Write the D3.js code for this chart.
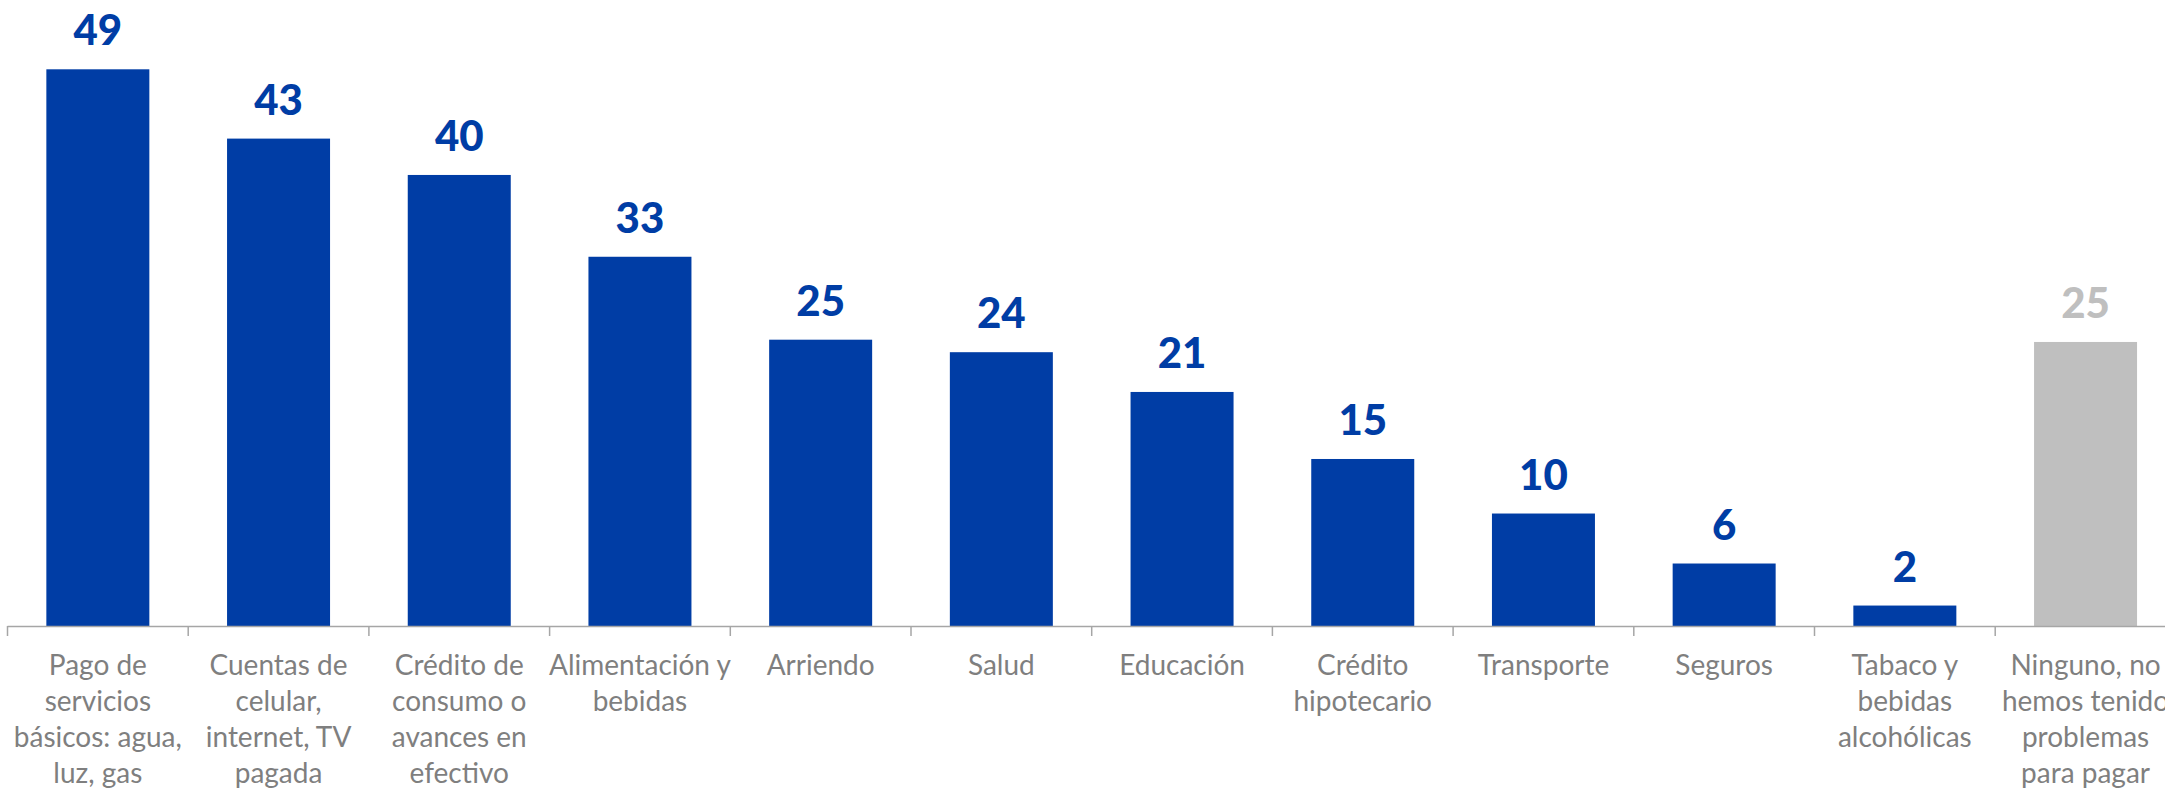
<!DOCTYPE html>
<html>
<head>
<meta charset="utf-8">
<script src="https://cdn.jsdelivr.net/npm/d3@7"></script>
<style>
  html, body { margin: 0; padding: 0; background: #ffffff; overflow: hidden; }
  svg { display: block; }
</style>
</head>
<body>
<svg id="chart" width="2165" height="788"></svg>
<script>
// ---- data ----
const categories = [
  "Pago de\nservicios\nbásicos: agua,\nluz, gas",
  "Cuentas de\ncelular,\ninternet, TV\npagada",
  "Crédito de\nconsumo o\navances en\nefectivo",
  "Alimentación y\nbebidas",
  "Arriendo",
  "Salud",
  "Educación",
  "Crédito\nhipotecario",
  "Transporte",
  "Seguros",
  "Tabaco y\nbebidas\nalcohólicas",
  "Ninguno, no\nhemos tenido\nproblemas\npara pagar"
];
const values = [49, 42.9, 39.7, 32.5, 25.2, 24.1, 20.6, 14.7, 9.9, 5.5, 1.8, 25];
const valueLabels = ["49", "43", "40", "33", "25", "24", "21", "15", "10", "6", "2", "25"];
const highlight = [false, false, false, false, false, false, false, false, false, false, false, true];

// ---- layout ----
const blue = "#003DA5";
const grey = "#BFBFBF";
const axisY = 626;
const svg = d3.select("#chart");

const x = d3.scaleBand()
  .domain(categories)
  .range([7.5, 7.5 + 12 * 180.7])
  .paddingInner(0.43)
  .paddingOuter(0.215);

const y = d3.scaleLinear().domain([0, 49]).range([axisY, 69.3]);

const rows = categories.map((c, i) => ({ c, v: values[i], lab: valueLabels[i], hi: highlight[i] }));

// bars
svg.append("g").selectAll("rect").data(rows).join("rect")
  .attr("x", d => x(d.c))
  .attr("y", d => y(d.v))
  .attr("width", x.bandwidth())
  .attr("height", d => y(0) - y(d.v))
  .attr("fill", d => d.hi ? grey : blue);

// value labels
svg.append("g").selectAll("text").data(rows).join("text")
  .attr("x", d => x(d.c) + x.bandwidth() / 2)
  .attr("y", d => y(d.v) - 24)
  .attr("text-anchor", "middle")
  .attr("font-family", "Lato, 'Open Sans', sans-serif")
  .attr("font-weight", 900)
  .attr("font-size", 42)
  .attr("fill", d => d.hi ? grey : blue)
  .text(d => d.lab);

// axis line + ticks
const axisG = svg.append("g");
axisG.append("line")
  .attr("x1", 7.5).attr("x2", 2165)
  .attr("y1", axisY + 0.5).attr("y2", axisY + 0.5)
  .attr("stroke", "#A6A6A6").attr("stroke-width", 1.5);
const tickXs = d3.range(categories.length + 1).map(i => x.range()[0] + i * x.step());
axisG.selectAll("line.tick").data(tickXs).join("line")
  .attr("class", "tick")
  .attr("x1", d => d).attr("x2", d => d)
  .attr("y1", axisY).attr("y2", axisY + 10)
  .attr("stroke", "#A6A6A6").attr("stroke-width", 1.5);

// category labels
const catG = svg.append("g").selectAll("text").data(rows).join("text")
  .attr("x", d => x(d.c) + x.bandwidth() / 2)
  .attr("y", 675)
  .attr("text-anchor", "middle")
  .attr("font-family", "Lato, 'Open Sans', sans-serif")
  .attr("font-size", 28)
  .attr("fill", "#7F7F7F");
catG.each(function(d) {
  const t = d3.select(this);
  const cx = x(d.c) + x.bandwidth() / 2;
  d.c.split("\n").forEach((line, k) => {
    t.append("tspan").attr("x", cx).attr("y", 675 + k * 36).text(line);
  });
});
</script>
</body>
</html>
